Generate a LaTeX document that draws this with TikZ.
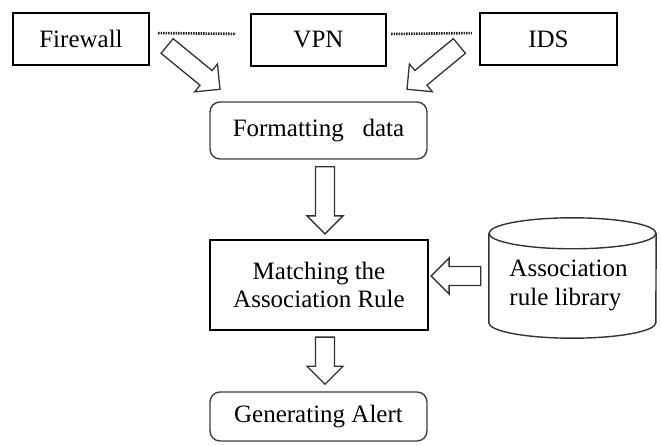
\documentclass[tikz,border=0pt]{standalone}
\usepackage{fontspec}
\setmainfont{Liberation Serif}
\usetikzlibrary{calc}
\newcommand{\blockarrow}[2]{%
  \path ($(#2)!18pt!(#1)$) coordinate (ba-h);
  \draw[barrow] ($(#1)!9.5pt!90:(#2)$) -- ($(ba-h)!9.5pt!90:(#2)$) -- ($(ba-h)!18pt!90:(#2)$) -- (#2)
     -- ($(ba-h)!18pt!-90:(#2)$) -- ($(ba-h)!9.5pt!-90:(#2)$) -- ($(#1)!9.5pt!-90:(#2)$) -- cycle;}
\begin{document}
\begin{tikzpicture}[x=1pt,y=-1pt,
  every node/.style={font=\fontsize{25}{28}\selectfont, inner sep=0pt},
  sqbox/.style={draw=black, line width=2.2pt},
  rbox/.style={draw=black!75, line width=1.4pt, rounded corners=10pt},
  barrow/.style={draw=black!80, line width=1.3pt, fill=white, line join=miter},
  dotline/.style={draw=black!85, line width=2.6pt, dash pattern=on 1.6pt off 0.9pt},
  cyl/.style={draw=black!80, line width=1.4pt}]
\useasboundingbox (0,0) rectangle (661,446);
\fill[white] (0,0) rectangle (661,446);

\node[sqbox, minimum width=136pt, minimum height=52pt] (fw) at (81,39) {Firewall};
\node[sqbox, minimum width=135pt, minimum height=52pt] (vpn) at (318.5,40) {VPN};
\node[sqbox, minimum width=137pt, minimum height=52pt] (ids) at (548.5,39) {IDS};
\node[rbox, minimum width=217pt, minimum height=57pt] (fmt) at (318.5,130.5) {Formatting~~~data};
\node[sqbox, minimum width=218pt, minimum height=90pt, align=center] (match) at (319,285) {Matching the\\Association Rule};
\node[rbox, minimum width=217pt, minimum height=49pt] (gen) at (318.5,416.5) {Generating Alert};
\node[minimum width=167pt, minimum height=120pt] (lib) at (572.5,278) {};
\node[align=left, font=\fontsize{25}{29}\selectfont] (libtxt) at ($(lib.center)+(-4,7)$) {Association\\rule library};

% cylinder
\draw[cyl] ([yshift=-15.5pt]lib.north west) -- ([yshift=15.5pt]lib.south west)
  arc[start angle=180, end angle=360, x radius=83.5pt, y radius=15.5pt]
  -- ([yshift=-15.5pt]lib.north east);
\draw[cyl] ([yshift=-15.5pt]lib.north) ellipse [x radius=83.5pt, y radius=15.5pt];

% dotted links
\draw[dotline, shorten <=8pt, shorten >=14pt] ([yshift=6pt]fw.east) -- ([yshift=6pt]vpn.west);
\draw[dotline, shorten <=4pt, shorten >=7pt] ([yshift=6pt]vpn.east) -- ([yshift=6pt]ids.west);

% block arrows
\coordinate (a1s) at ($(fw.east)+(17,7)$);
\coordinate (a1e) at ($(fmt.north)+(-98.5,-12)$);
\coordinate (a2s) at ($(ids.west)+(-19.5,7)$);
\coordinate (a2e) at ($(fmt.north)+(88.5,-12)$);
\coordinate (a3s) at ($(fmt.south)+(6.5,7)$);
\coordinate (a3e) at ($(match.north)+(6,-5)$);
\coordinate (a4s) at ($(lib.west)+(-8,-2)$);
\coordinate (a4e) at ($(match.east)+(2,-9)$);
\coordinate (a5s) at ($(match.south)+(6,6)$);
\coordinate (a5e) at ($(gen.north)+(6.5,-7)$);
\blockarrow{a1s}{a1e}
\blockarrow{a2s}{a2e}
\blockarrow{a3s}{a3e}
\blockarrow{a4s}{a4e}
\blockarrow{a5s}{a5e}
\end{tikzpicture}
\end{document}
